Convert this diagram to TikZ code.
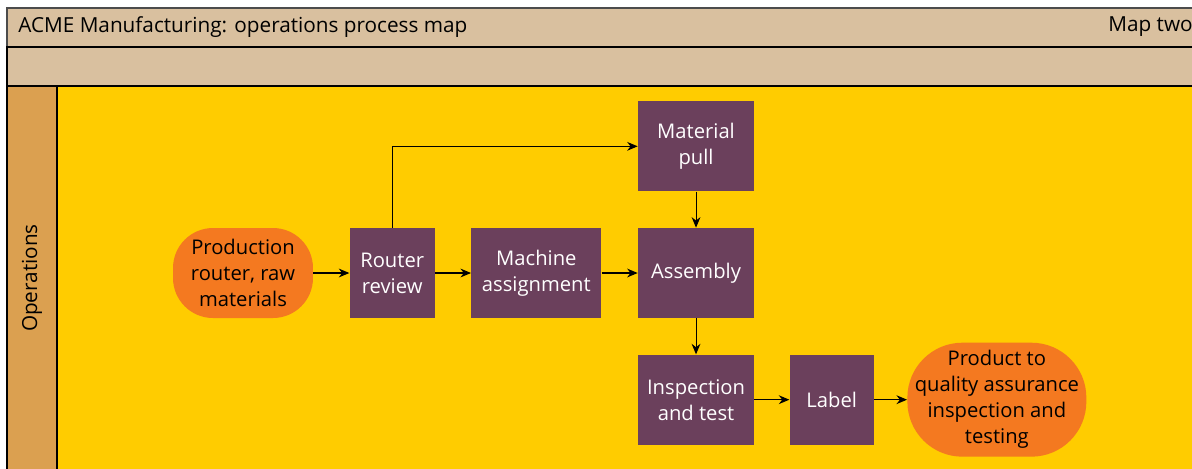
\documentclass[tikz,border=0pt]{standalone}
\usepackage{fontspec}
\setmainfont{Open Sans}
\usetikzlibrary{positioning, arrows.meta}

\definecolor{bandtan}{HTML}{D9C09F}
\definecolor{lanetan}{HTML}{DBA050}
\definecolor{laneyellow}{HTML}{FFCC00}
\definecolor{stepplum}{HTML}{6B405C}
\definecolor{endorange}{HTML}{F47920}

\tikzset{
  stepbox/.style={fill=stepplum, text=white, inner sep=0pt, align=center,
    minimum height=1.8cm, font=\fontsize{11.5}{14.8}\selectfont},
  endbox/.style={fill=endorange, text=black, inner sep=0pt, align=center,
    font=\fontsize{11.5}{14.8}\selectfont},
  flow/.style={->, >={Stealth[length=6pt,width=5pt]}, line width=0.6pt}
}

\begin{document}
\begin{tikzpicture}[x=0.02cm, y=-0.02cm, node distance=0.72cm]
  \useasboundingbox (0,0) rectangle (1192,468);
  \clip (0,0) rectangle (1192,468);

  % header bands and lane
  \draw[fill=bandtan, draw=black!70, line width=0.6pt] (7,8) rectangle (1200,47);
  \draw[fill=bandtan, line width=0.6pt] (7,47) rectangle (1200,86);
  \draw[fill=lanetan, line width=0.6pt] (7,86) rectangle (57,480);
  \draw[fill=laneyellow, line width=0.6pt] (57,86) rectangle (1200,480);

  \node[anchor=west, inner sep=0pt, font=\fontsize{11.8}{14}\selectfont] (title) at (18,27) {ACME Manufacturing: operations process map};
  \node[anchor=west, inner sep=0pt, font=\fontsize{11.8}{14}\selectfont] (mapno) at (1108,27) {Map two};
  \node[rotate=90, inner sep=0pt, font=\fontsize{11.8}{14}\selectfont] (lane) at (32,278) {Operations};

  % process steps
  \node[endbox, minimum width=2.8cm, minimum height=1.8cm, rounded corners=0.8cm] (src) at (243,273) {Production\\router, raw\\materials};
  \node[stepbox, minimum width=1.7cm, right=of src] (rr) {Router\\review};
  \node[stepbox, minimum width=2.6cm, right=of rr] (ma) {Machine\\assignment};
  \node[stepbox, minimum width=2.32cm, right=of ma] (asm) {Assembly};
  \node[stepbox, minimum width=2.32cm, above=of asm] (mp) {Material\\pull};
  \node[stepbox, minimum width=2.32cm, below=of asm] (it) {Inspection\\and test};
  \node[stepbox, minimum width=1.68cm, right=0.7cm of it] (lbl) {Label};
  \node[endbox, minimum width=3.58cm, minimum height=2.28cm, rounded corners=1.1cm, right=0.66cm of lbl] (qa) {Product to\\quality assurance\\inspection and\\testing};

  \path[flow]
   (src) edge (rr)
   (rr) edge (ma)
   (ma) edge (asm)
   (mp) edge (asm)
   (asm) edge (it)
   (it) edge (lbl)
   (lbl) edge (qa);
  \draw[flow] (rr.north) |- (mp.west);
\end{tikzpicture}
\end{document}
